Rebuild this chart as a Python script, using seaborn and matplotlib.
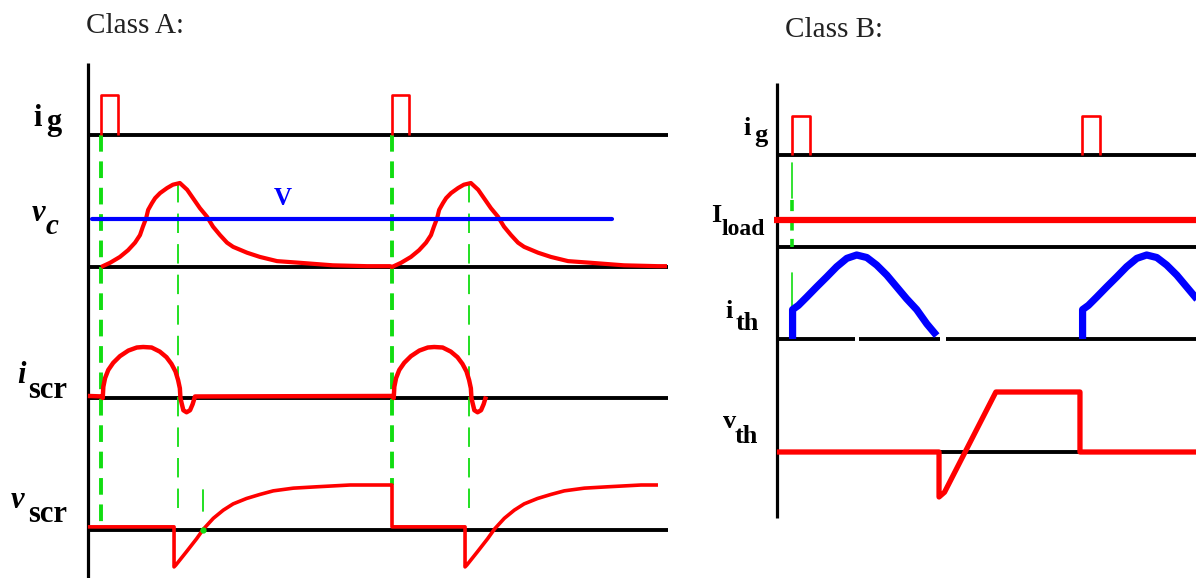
import numpy as np
import matplotlib
matplotlib.use("Agg")
import matplotlib.pyplot as plt
import seaborn as sns

sns.set_theme(style="white")
plt.rcParams["font.family"] = ["Liberation Serif", "DejaVu Serif"]
plt.rcParams["lines.scale_dashes"] = False

# ---------------- waveform data (time in units, amplitude normalised) ----------------
# Class A
firing_a = [0.0, 10.0]
gate_a_t = [0.0, 0.0, 0.58, 0.58]
gate_a_v = [0.0, 1.0, 1.0, 0.0]

vc_t = [0.0, 0.31, 0.65, 0.93, 1.17, 1.34, 1.44, 1.55, 1.62, 1.75, 1.86, 2.03, 2.27, 2.47, 2.71,
        2.96, 3.16, 3.40, 3.64, 3.85, 4.09, 4.33, 4.54, 5.02, 5.46, 6.05, 6.84, 7.97, 9.14, 9.45, 9.93]
vc_v = [0.0, 0.05, 0.12, 0.20, 0.29, 0.38, 0.48, 0.58, 0.68, 0.76, 0.82, 0.88, 0.94, 0.98, 1.00,
        0.92, 0.82, 0.70, 0.60, 0.48, 0.38, 0.29, 0.24, 0.17, 0.12, 0.07, 0.05, 0.02, 0.01, 0.01, 0.01]
supply_level = 0.57

iscr_t = [0.06, 0.08, 0.14, 0.25, 0.42, 0.65, 0.94, 1.23, 1.45, 1.74, 2.02, 2.25, 2.42, 2.56, 2.65,
          2.71, 2.73, 2.77, 2.83, 2.94, 3.06, 3.15, 3.23, 9.99]
iscr_v = [0.0, 0.22, 0.39, 0.55, 0.69, 0.82, 0.93, 0.99, 1.00, 0.99, 0.91, 0.80, 0.67, 0.52, 0.35,
          0.19, 0.0, -0.10, -0.24, -0.28, -0.24, -0.12, 0.03, 0.04]

vscr_t = [0.0, 2.51, 2.51, 2.57, 2.94, 3.29, 3.52, 3.86, 4.20, 4.54, 5.00, 5.46, 5.92, 6.61, 7.41,
          8.56, 9.14, 9.93, 10.0]
vscr_v = [0.07, 0.07, -0.82, -0.78, -0.48, -0.19, 0.02, 0.26, 0.44, 0.58, 0.70, 0.79, 0.87, 0.93, 0.96,
          1.00, 1.00, 1.00, 1.00]

# Class B
firing_b = [0.0, 10.0]
gate_b_t = [0.0, 0.0, 0.62, 0.62]
gate_b_v = [0.0, 1.0, 1.0, 0.0]

iload_t = [-0.62, 13.95]
iload_v = [1.0, 1.0]

ith_t = [0.02, 0.02, 0.22, 0.51, 0.85, 1.20, 1.54, 1.89, 2.23, 2.58, 2.92, 3.27, 3.61, 3.95, 4.30,
         4.65, 4.99]
ith_v = [0.0, 0.35, 0.40, 0.50, 0.62, 0.74, 0.86, 0.96, 1.00, 0.97, 0.88, 0.76, 0.62, 0.48, 0.35,
         0.18, 0.04]

vth_t = [-0.52, 5.07, 5.07, 5.26, 7.03, 9.93, 9.93, 13.95]
vth_v = [0.0, 0.0, -0.75, -0.67, 1.0, 1.0, 0.0, 0.0]

# ---------------- layout (pixel frame) ----------------
W, H = 1196, 578
RED, BLUE, GREEN, BLACK = "#ff0000", "#0000ff", "#11dd11", "#000000"

A = dict(x0=101.0, sx=29.1, left=88, right=668)
B = dict(x0=792.0, sx=29.0, left=777, right=1196)
chan_a = {"ig": (135, 40), "vc": (267, 84), "iscr": (398, 51), "vscr": (530, 45)}
chan_b = {"ig": (155, 39), "iload": (247, 27), "ith": (339, 84), "vth": (452, 60)}

fig = plt.figure(figsize=(W / 100, H / 100), dpi=100)
ax = fig.add_axes([0, 0, 1, 1])
ax.set_xlim(0, W)
ax.set_ylim(H, 0)
ax.axis("off")


def px(panel, t):
    return panel["x0"] + np.asarray(t, dtype=float) * panel["sx"]


def py(chan, v):
    base, gain = chan
    return base - np.asarray(v, dtype=float) * gain


def trace(panel, chan, t, v, color, lw):
    sns.lineplot(x=px(panel, t), y=py(chan, v), sort=False, estimator=None,
                 color=color, linewidth=lw, ax=ax, legend=False,
                 solid_joinstyle="round", solid_capstyle="butt")


def periodic(t, v, starts, t_end, pre=None):
    ts, vs = [], []
    if pre is not None:
        ts += list(pre[0]); vs += list(pre[1])
    for s in starts:
        for a, b in zip(t, v):
            if a + s <= t_end:
                ts.append(a + s); vs.append(b)
    return ts, vs


# ---------------- Class A ----------------
ax.plot([A["left"], A["left"]], [63, H], color=BLACK, lw=2.3, solid_capstyle="butt")
for key in ["ig", "vc", "iscr", "vscr"]:
    b = chan_a[key][0]
    ax.plot([A["left"], A["right"]], [b, b], color=BLACK, lw=2.8, solid_capstyle="butt")

# guide lines at firing and commutation instants
for s in firing_a:
    x = px(A, s)
    bottom = py(chan_a["vscr"], 0.07) if s == 0 else py(chan_a["vscr"], 1.0)
    ax.plot([x, x], [chan_a["ig"][0], bottom], color=GREEN, lw=2.8, dashes=(12, 7))
    xc = px(A, s + 2.65)
    ax.plot([xc, xc], [py(chan_a["vc"], 1.0), 515], color=GREEN, lw=1.3, dashes=(14, 8))
xz = px(A, 3.5)
ax.plot([xz, xz], [490, 511], color=GREEN, lw=1.3)

for s in firing_a:
    trace(A, chan_a["ig"], np.array(gate_a_t) + s, gate_a_v, RED, 1.9)

t, v = periodic(vc_t, vc_v, firing_a, 19.45)
trace(A, chan_a["vc"], t, v, RED, 3.0)
ax.plot([92, 612], [py(chan_a["vc"], supply_level)] * 2, color=BLUE, lw=3.0, solid_capstyle="round")

t, v = periodic(iscr_t, iscr_v, firing_a, 19.1, pre=([-0.45, 0.06], [0.04, 0.03]))
trace(A, chan_a["iscr"], t, v, RED, 3.2)

t, v = periodic(vscr_t, vscr_v, firing_a, 19.14, pre=([-0.45], [0.07]))
trace(A, chan_a["vscr"], t, v, RED, 2.6)
ax.plot([xz], [chan_a["vscr"][0]], "o", color=GREEN, ms=3.5)

# ---------------- Class B ----------------
ax.plot([B["left"], B["left"]], [83, 518], color=BLACK, lw=2.3, solid_capstyle="butt")
for key in ["ig", "iload", "vth"]:
    b = chan_b[key][0]
    ax.plot([B["left"], B["right"]], [b, b], color=BLACK, lw=2.8, solid_capstyle="butt")
b = chan_b["ith"][0]
for x1, x2 in [(777, 855), (859, 940), (946, 1196)]:
    ax.plot([x1, x2], [b, b], color=BLACK, lw=2.8, solid_capstyle="butt")

xg = px(B, 0)
ax.plot([xg, xg], [163, 198], color=GREEN, lw=1.2)
ax.plot([xg, xg], [200, 247], color=GREEN, lw=2.6, dashes=(8, 6))
ax.plot([xg, xg], [273, 310], color=GREEN, lw=1.2)

for s in firing_b:
    trace(B, chan_b["ig"], np.array(gate_b_t) + s, gate_b_v, RED, 1.9)

trace(B, chan_b["iload"], iload_t, iload_v, RED, 4.5)

for s in firing_b:
    trace(B, chan_b["ith"], np.array(ith_t) + s, ith_v, BLUE, 5.2)

trace(B, chan_b["vth"], vth_t, vth_v, RED, 3.8)

# ---------------- labels ----------------
def lab(x, y, s, size, style="normal", weight="bold", color=BLACK):
    ax.text(x, y, s, fontsize=size, fontstyle=style, fontweight=weight, color=color,
            ha="left", va="baseline")


lab(86, 33, "Class A:", 21, weight="normal", color="#222222")
lab(785, 37, "Class B:", 21, weight="normal", color="#222222")

lab(33, 126, "i", 22)
lab(46, 130, "g", 22)
lab(32, 221, "v", 22, style="italic")
lab(46, 234, "c", 21, style="italic")
lab(17, 383, "i", 22, style="italic")
lab(28, 398, "scr", 22)
lab(11, 508, "v", 22, style="italic")
lab(28, 522, "scr", 22)
lab(274, 205, "V", 18, color=BLUE)

lab(743, 135, "i", 19)
lab(754, 142, "g", 19)
lab(711, 222, "I", 19)
lab(722, 235, "load", 17)
lab(725, 318, "i", 19)
lab(736, 330, "th", 19)
lab(723, 428, "v", 19)
lab(735, 443, "th", 19)

fig.savefig("out.png", dpi=100)
